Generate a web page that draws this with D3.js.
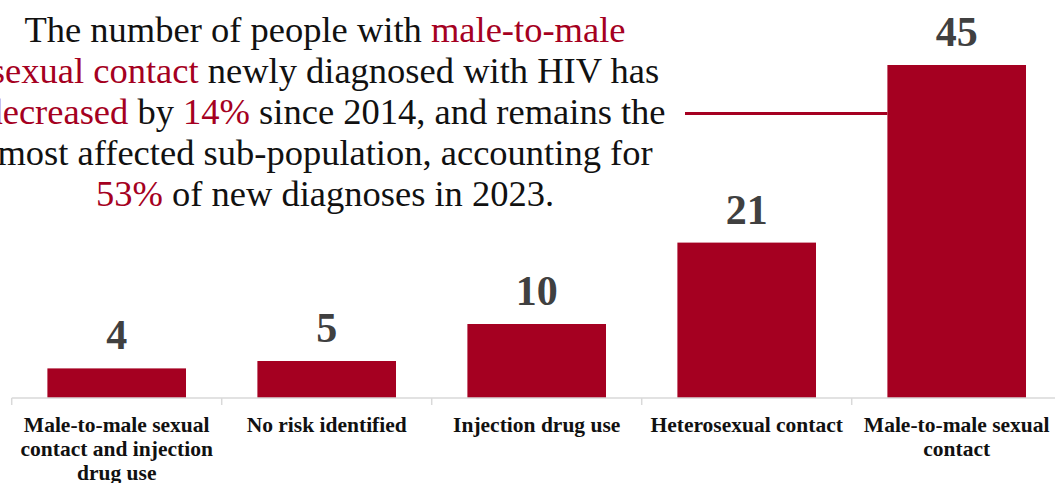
<!DOCTYPE html>
<html>
<head>
<meta charset="utf-8">
<script src="https://cdn.jsdelivr.net/npm/d3@7"></script>
<style>
  body { margin: 0; background: #fff; }
  text { font-family: "Liberation Serif", "Times New Roman", serif; }
</style>
</head>
<body>
<script>
// Chart data
var categories = ["Male-to-male sexual contact and injection drug use", "No risk identified",
                  "Injection drug use", "Heterosexual contact", "Male-to-male sexual contact"];
var values = [4, 5, 10, 21, 45];

// Annotation lines: [text, highlighted?]
var noteLines = [
  [["The number of people with ", false], ["male-to-male", true]],
  [["sexual contact", true], [" newly diagnosed with HIV has", false]],
  [["decreased", true], [" by ", false], ["14%", true], [" since 2014, and remains the", false]],
  [["most affected sub-population, accounting for", false]],
  [["53%", true], [" of new diagnoses in 2023.", false]]
];

var svgWidth = 1055;
var svgHeight = 483;
var red = "#a50021";
var axisY = 398;

var svg = d3.select("body")
            .append("svg")
            .attr("width", svgWidth)
            .attr("height", svgHeight);

// Scales
var x = d3.scaleBand()
          .domain(categories)
          .range([11.7, 1061.7])
          .paddingInner(0.34)
          .paddingOuter(0.17);

var y = d3.scaleLinear()
          .domain([0, d3.max(values)])
          .range([axisY, 65]);

// Bars
svg.selectAll(".bar")
   .data(values)
   .enter()
   .append("rect")
   .attr("class", "bar")
   .attr("x", (d, i) => x(categories[i]))
   .attr("y", d => y(d))
   .attr("width", x.bandwidth())
   .attr("height", d => y(0) - y(d))
   .attr("fill", red);

// Value labels
svg.selectAll(".val")
   .data(values)
   .enter()
   .append("text")
   .attr("class", "val")
   .attr("x", (d, i) => x(categories[i]) + x.bandwidth() / 2)
   .attr("y", d => y(d) - 19)
   .attr("text-anchor", "middle")
   .attr("font-size", 42)
   .attr("font-weight", "bold")
   .attr("fill", "#404040")
   .text(d => d);

// Axis line + ticks at band edges
var axisG = svg.append("g").attr("transform", `translate(0, ${axisY})`);
var xAxis = d3.axisBottom(x).tickSize(0).tickPadding(0);
axisG.call(xAxis);
axisG.select(".domain")
     .attr("d", `M${x.range()[0]},0H${svgWidth}`)
     .attr("stroke", "#d9d9d9")
     .attr("stroke-width", 1.5);

var edges = d3.range(categories.length).map(i => x.range()[0] + i * x.step());
axisG.selectAll(".edge")
     .data(edges)
     .enter()
     .append("line")
     .attr("class", "edge")
     .attr("x1", d => d).attr("x2", d => d)
     .attr("y1", 0).attr("y2", 7)
     .attr("stroke", "#d9d9d9")
     .attr("stroke-width", 1.5);

// Wrapped category labels
axisG.selectAll(".tick text")
     .attr("font-size", 21.5)
     .attr("font-weight", "bold")
     .attr("fill", "#111")
     .attr("font-family", "Liberation Serif, serif")
     .each(function(d) {
       var t = d3.select(this);
       var words = d.split(" ");
       t.text(null);
       var line = [];
       var lineNo = 0;
       var tspan = t.append("tspan").attr("x", 0).attr("y", 34);
       words.forEach(function(w) {
         line.push(w);
         tspan.text(line.join(" "));
         if (tspan.node().getComputedTextLength() > 200 && line.length > 1) {
           line.pop();
           tspan.text(line.join(" "));
           line = [w];
           lineNo++;
           tspan = t.append("tspan").attr("x", 0).attr("y", 34 + lineNo * 24).text(w);
         }
       });
     });
axisG.selectAll(".tick text").attr("dy", null);

// Connector line from annotation to tallest bar
var maxI = values.indexOf(d3.max(values));
svg.append("line")
   .attr("x1", 685)
   .attr("x2", x(categories[maxI]))
   .attr("y1", 113.5)
   .attr("y2", 113.5)
   .attr("stroke", red)
   .attr("stroke-width", 3);

// Annotation text
var note = svg.append("text")
              .attr("text-anchor", "middle")
              .attr("font-size", 36.5)
              .attr("fill", "#111");

noteLines.forEach(function(parts, i) {
  var first = true;
  parts.forEach(function(p) {
    var ts = note.append("tspan")
                 .attr("fill", p[1] ? red : "#111")
                 .text(p[0]);
    if (first) {
      ts.attr("x", 325).attr("y", 42 + i * 41);
      first = false;
    }
  });
});
</script>
</body>
</html>
